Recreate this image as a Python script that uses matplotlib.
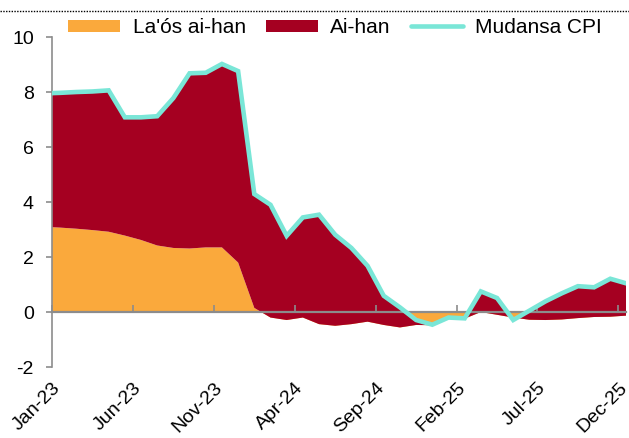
import numpy as np
import pandas as pd
import matplotlib
matplotlib.use('Agg')
import matplotlib.pyplot as plt
from matplotlib.lines import Line2D

plt.rcParams['font.family'] = ['Liberation Sans', 'DejaVu Sans']

# monthly points (mid-month), Dec-22 .. Dec-25
months = pd.date_range('2022-12-01', '2025-12-01', freq='MS')

# kontribuisaun (pp)
laos_ai_han = [3.10, 3.07, 3.03, 2.98, 2.92, 2.78, 2.62, 2.42, 2.33, 2.31, 2.35, 2.35, 1.80,
               0.15, -0.20, -0.29, -0.20, -0.44, -0.50, -0.44, -0.35, -0.47, -0.56, -0.47,
               -0.48, -0.22, -0.24, 0.00, -0.10, -0.20, -0.28, -0.29, -0.27, -0.22, -0.18,
               -0.17, -0.13]
ai_han = [4.85, 4.90, 4.97, 5.04, 5.14, 4.30, 4.46, 4.70, 5.45, 6.37, 6.35, 6.67, 6.96,
          4.14, 4.10, 3.06, 3.64, 3.98, 3.31, 2.77, 2.03, 1.06, 0.73, 0.18,
          0.02, 0.02, 0.01, 0.75, 0.61, -0.09, 0.33, 0.68, 0.95, 1.16, 1.08,
          1.38, 1.17]
mudansa_cpi = [7.95, 7.97, 8.00, 8.02, 8.06, 7.08, 7.08, 7.12, 7.78, 8.68, 8.70, 9.02, 8.76,
               4.29, 3.90, 2.77, 3.44, 3.54, 2.81, 2.33, 1.68, 0.59, 0.17, -0.29,
               -0.46, -0.20, -0.23, 0.75, 0.51, -0.29, 0.05, 0.39, 0.68, 0.94, 0.90,
               1.21, 1.04]

tick_labels = ['Jan-23', 'Jun-23', 'Nov-23', 'Apr-24', 'Sep-24', 'Feb-25', 'Jul-25', 'Dec-25']

c_orange = '#FAA93C'
c_red = '#A50021'
c_teal = '#7AE6D7'
grey = '#8C8C8C'

# x position in months counted from start of Jan-23
x = np.arange(len(months)) - 0.5
ticks = np.arange(0, 36, 5)

fig = plt.figure(figsize=(6.29, 4.38), dpi=100)
ax = fig.add_axes([0.0827, 0.162, 0.9133, 0.7535])

ax.stackplot(x, laos_ai_han, ai_han, colors=[c_orange, c_red], labels=["La'ós ai-han", 'Ai-han'], zorder=1)
ax.plot(x, mudansa_cpi, color=c_teal, lw=3.3, label='Mudansa CPI', zorder=3,
        solid_joinstyle='miter', solid_capstyle='round')

ax.set_xlim(0, 35.5)
ax.set_ylim(-2, 10)
ax.set_yticks(np.arange(-2, 11, 2))
ax.set_yticklabels(['-2', '0', '2', '4', '6', '8', '10'])

for s in ['top', 'right']:
    ax.spines[s].set_visible(False)
ax.spines['left'].set_color(grey)
ax.spines['left'].set_linewidth(1.2)
ax.spines['bottom'].set_position(('data', 0))
ax.spines['bottom'].set_color(grey)
ax.spines['bottom'].set_linewidth(1.6)
ax.spines['bottom'].set_zorder(2)

ax.set_xticks(ticks)
ax.tick_params(axis='x', direction='in', length=5, width=1.2, color=grey, labelbottom=False)
ax.tick_params(axis='y', direction='out', length=4.5, width=1.2, color=grey, labelsize=14, pad=8.5)

sec = ax.secondary_xaxis('bottom')
sec.set_xticks(ticks)
sec.set_xticklabels(tick_labels, rotation=45, ha='right', va='top', rotation_mode='anchor')
sec.tick_params(length=0, labelsize=14, pad=9)
sec.spines['bottom'].set_visible(False)

ax.legend(loc='center', bbox_to_anchor=(0.5326, 0.9374), bbox_transform=fig.transFigure,
          ncol=3, frameon=False, fontsize=15, handlelength=2.5, handleheight=0.51,
          handletextpad=0.6, columnspacing=0.95, borderpad=0)

# dotted rule on top of the panel
fig.add_artist(Line2D([0, 1], [0.9756, 0.9756], transform=fig.transFigure,
                      color='black', lw=1.0, ls=(0, (1, 1))))

fig.savefig('out.png', dpi=100)
